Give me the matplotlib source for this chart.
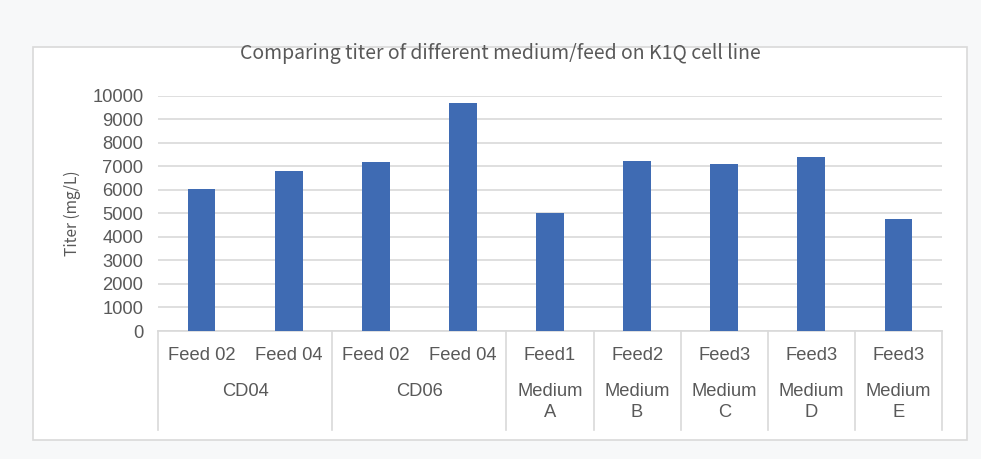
import matplotlib
matplotlib.use("Agg")
import matplotlib.pyplot as plt
from matplotlib.patches import Rectangle
from matplotlib.lines import Line2D
from matplotlib.transforms import blended_transform_factory

# ---- data ----
feed_labels = ['Feed 02', 'Feed 04', 'Feed 02', 'Feed 04', 'Feed1', 'Feed2', 'Feed3', 'Feed3', 'Feed3']
group_labels = ['CD04', 'CD06', 'Medium\nA', 'Medium\nB', 'Medium\nC', 'Medium\nD', 'Medium\nE']
group_sizes = [2, 2, 1, 1, 1, 1, 1]
titers = [6050, 6820, 7170, 9700, 5000, 7230, 7100, 7400, 4780]
yticks = [0, 1000, 2000, 3000, 4000, 5000, 6000, 7000, 8000, 9000, 10000]
title = 'Comparing titer of different medium/feed on K1Q cell line'
ylabel = 'Titer (mg/L)'

FONT = ['Noto Sans CJK SC', 'DejaVu Sans']
TICKFONT = ['Liberation Sans', 'DejaVu Sans']
plt.rcParams['font.family'] = FONT
TXT = '#595959'
GRID = '#d9d9d9'
BAR = '#3f6bb3'

W, H = 981, 459
fig = plt.figure(figsize=(W / 100, H / 100), dpi=100, facecolor='#f7f8f9')

def fx(px):
    return px / W

def fy(py):
    return 1 - py / H

# chart area panel
fig.patches.append(Rectangle((fx(33), fy(440)), fx(967) - fx(33), fy(47) - fy(440),
                             transform=fig.transFigure, facecolor='white',
                             edgecolor=GRID, linewidth=1.2, zorder=-10))

ax_l, ax_r, ax_t, ax_b = 158, 942, 95.7, 331
ax = fig.add_axes([fx(ax_l), fy(ax_b), fx(ax_r) - fx(ax_l), fy(ax_t) - fy(ax_b)])
ax.set_facecolor('none')
ax.set_zorder(2)

x = list(range(len(titers)))
ax.bar(x, titers, width=0.32, color=BAR, zorder=3)
ax.set_xlim(-0.5, len(titers) - 0.5)
ax.set_ylim(0, 10000)
ax.set_yticks(yticks)
ax.set_yticklabels([str(v) for v in yticks], family=TICKFONT)
ax.yaxis.grid(True, color=GRID, linewidth=1.2, zorder=0)
ax.set_axisbelow(True)
ax.set_xticks([])
for s in ['top', 'right', 'left']:
    ax.spines[s].set_visible(False)
ax.spines['bottom'].set_color(GRID)
ax.spines['bottom'].set_linewidth(1.2)
ax.tick_params(axis='y', length=0, pad=10.5, labelsize=13.2, labelcolor=TXT)

ax.set_ylabel(ylabel, fontsize=11.2, color=TXT)
ax.yaxis.set_label_coords((81 - ax_l) / (ax_r - ax_l), 0.5)

fig.text(fx(500), fy(54), title, ha='center', va='center', fontsize=14,
         fontweight='light', color=TXT)

trans = blended_transform_factory(ax.transData, fig.transFigure)

# first level labels
for i, lab in enumerate(feed_labels):
    ax.text(i, fy(355), lab, transform=trans, ha='center', va='center',
            fontsize=13.2, family=TICKFONT, color=TXT, clip_on=False)

# second level labels and separators
bounds = [-0.5]
start = -0.5
for g, n in zip(group_labels, group_sizes):
    center = start + n / 2
    ax.text(center, fy(383), g, transform=trans, ha='center', va='top',
            fontsize=13.2, family=TICKFONT, color=TXT, linespacing=1.3, clip_on=False)
    start += n
    bounds.append(start)

for b in bounds:
    fig.lines.append(Line2D([b, b], [fy(331), fy(430)], transform=trans,
                            color=GRID, linewidth=1.2))

fig.savefig('out.png', dpi=100, facecolor=fig.get_facecolor())
